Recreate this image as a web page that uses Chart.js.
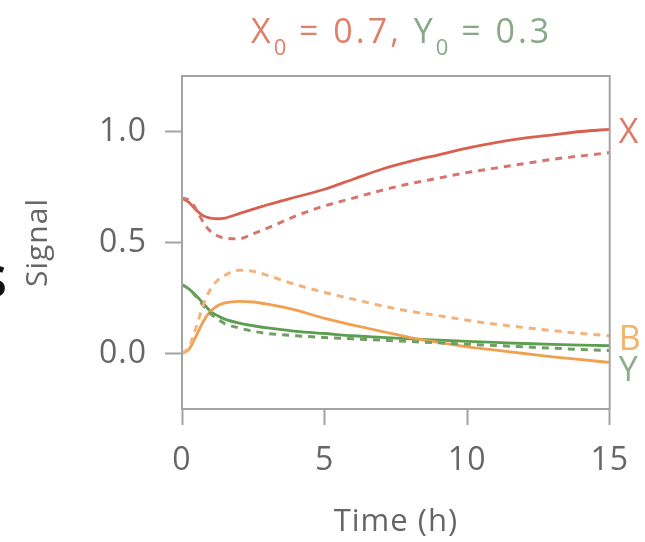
<!DOCTYPE html>
<html>
<head>
<meta charset="utf-8">
<script src="https://cdn.jsdelivr.net/npm/chart.js@4/dist/chart.umd.min.js"></script>
<style>
  html, body { margin: 0; padding: 0; background: #fff; }
  canvas { display: block; }
</style>
</head>
<body>
<canvas id="c" width="645" height="542"></canvas>
<script>
// ── Data ──────────────────────────────────────────────────────────────────
const times   = [0, 0.25, 0.5, 0.75, 1, 1.25, 1.5, 2, 2.5, 3, 4, 5, 6, 7, 8, 9, 10, 11, 12, 13, 14, 15];
const xSolid  = [0.70, 0.68, 0.645, 0.62, 0.61, 0.607, 0.61, 0.63, 0.65, 0.67, 0.705, 0.74, 0.785, 0.83, 0.865, 0.895, 0.925, 0.95, 0.97, 0.985, 1.0, 1.01];
const xDashed = [0.70, 0.69, 0.65, 0.59, 0.55, 0.53, 0.52, 0.517, 0.54, 0.565, 0.62, 0.665, 0.70, 0.735, 0.765, 0.79, 0.815, 0.835, 0.855, 0.875, 0.89, 0.905];
const bSolid  = [0, 0.02, 0.08, 0.145, 0.19, 0.215, 0.228, 0.235, 0.232, 0.222, 0.195, 0.158, 0.128, 0.10, 0.072, 0.05, 0.03, 0.015, 0.0, -0.015, -0.028, -0.04];
const bDashed = [0, 0.03, 0.12, 0.22, 0.29, 0.33, 0.352, 0.375, 0.37, 0.352, 0.31, 0.275, 0.245, 0.215, 0.19, 0.17, 0.15, 0.132, 0.117, 0.103, 0.09, 0.08];
const ySolid  = [0.31, 0.29, 0.26, 0.225, 0.19, 0.17, 0.155, 0.137, 0.125, 0.115, 0.10, 0.09, 0.08, 0.073, 0.066, 0.06, 0.055, 0.05, 0.045, 0.041, 0.038, 0.035];
const yDashed = [0.31, 0.29, 0.255, 0.215, 0.18, 0.155, 0.135, 0.115, 0.10, 0.09, 0.08, 0.072, 0.066, 0.06, 0.054, 0.048, 0.042, 0.036, 0.03, 0.024, 0.018, 0.013];

const xTicks = [0, 5, 10, 15];
const yTicks = [0, 0.5, 1.0];

const endLabels  = ['X', 'B', 'Y'];
const endLabelAt = [0.99, 0.06, -0.08];
const endColors  = ['#e07a68', '#f2b468', '#8cae88'];

// ── Helpers ───────────────────────────────────────────────────────────────
const pts = vals => times.map((t, i) => ({ x: t, y: vals[i] }));
const GRAY = '#a3a3a3';
const TEXT = '#666';
const FONT = "'Open Sans', sans-serif";

function line(vals, color, dashed) {
  return {
    data: pts(vals),
    borderColor: color,
    borderWidth: dashed ? 3 : 2.8,
    borderDash: dashed ? [7, 6] : [],
    pointRadius: 0,
    fill: false,
    cubicInterpolationMode: 'monotone',
  };
}

// ── Extra drawing: box, title, end labels ─────────────────────────────────
const decor = {
  id: 'decor',
  beforeDraw(chart) {
    chart.ctx.letterSpacing = '1px';
  },
  afterDraw(chart) {
    const { ctx, chartArea: a, scales } = chart;
    ctx.save();
    ctx.strokeStyle = GRAY;
    ctx.lineWidth = 2;
    ctx.strokeRect(a.left, a.top, a.right - a.left, a.bottom - a.top);

    // title with subscripts
    const parts = [
      ['X', '#e0806c', 0], ['0', '#e0806c', 1], [' = 0.7, ', '#e0806c', 0],
      ['Y', '#88a888', 0], ['0', '#88a888', 1], [' = 0.3', '#88a888', 0],
    ];
    ctx.letterSpacing = '3px';
    ctx.textBaseline = 'alphabetic';
    ctx.textAlign = 'left';
    let x = 251;
    parts.forEach(([txt, col, sub]) => {
      ctx.font = (sub ? '22px ' : '34px ') + FONT;
      ctx.fillStyle = col;
      ctx.fillText(txt, x, sub ? 55 : 43);
      x += ctx.measureText(txt).width - (sub ? 2 : 0);
    });

    // end labels
    ctx.letterSpacing = '0px';
    ctx.font = '34px ' + FONT;
    ctx.textBaseline = 'middle';
    endLabels.forEach((l, i) => {
      ctx.fillStyle = endColors[i];
      ctx.fillText(l, a.right + 9, scales.y.getPixelForValue(endLabelAt[i]));
    });

    // cut-off letter at the left edge
    ctx.fillStyle = '#111';
    ctx.font = '600 58px ' + FONT;
    ctx.textBaseline = 'alphabetic';
    ctx.fillText('s', -21, 297);
    ctx.restore();
  }
};

// ── Chart ─────────────────────────────────────────────────────────────────
new Chart(document.getElementById('c'), {
  type: 'line',
  data: {
    datasets: [
      line(xDashed, '#d8746e', true),
      line(bDashed, '#f4b27a', true),
      line(yDashed, '#6f9f62', true),
      line(bSolid, '#f0a050', false),
      line(ySolid, '#5c9e50', false),
      line(xSolid, '#d9604f', false),
    ]
  },
  options: {
    responsive: false,
    animation: false,
    layout: { padding: { top: 76, right: 30, left: 0, bottom: 0 } },
    plugins: { legend: { display: false }, tooltip: { enabled: false } },
    scales: {
      x: {
        type: 'linear', min: 0, max: 15,
        afterBuildTicks: s => { s.ticks = xTicks.map(v => ({ value: v })); },
        afterFit: s => { s.height = 133; },
        border: { color: GRAY, width: 2 },
        grid: { drawOnChartArea: false, drawTicks: true, tickLength: 16, tickColor: GRAY, tickWidth: 2 },
        ticks: { color: TEXT, font: { family: FONT, size: 32 }, padding: 17, maxRotation: 0 },
        title: { display: true, text: 'Time (h)', color: TEXT, font: { family: FONT, size: 31 }, padding: { bottom: 1 } }
      },
      y: {
        type: 'linear', min: -0.25, max: 1.25,
        afterBuildTicks: s => { s.ticks = yTicks.map(v => ({ value: v })); },
        afterFit: s => { s.width = 182; },
        border: { color: GRAY, width: 2 },
        grid: { drawOnChartArea: false, drawTicks: true, tickLength: 17, tickColor: GRAY, tickWidth: 2 },
        ticks: { color: TEXT, font: { family: FONT, size: 32 }, padding: 18, callback: v => v.toFixed(1) },
        title: { display: true, text: 'Signal', color: TEXT, font: { family: FONT, size: 30 }, padding: { top: 20 } }
      }
    }
  },
  plugins: [decor]
});
</script>
</body>
</html>
